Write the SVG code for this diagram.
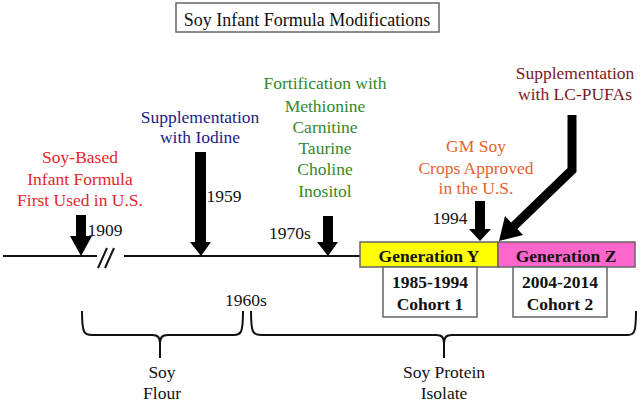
<svg xmlns="http://www.w3.org/2000/svg" width="641" height="403" viewBox="0 0 641 403">
<style>
text{font-family:"Liberation Serif","Times New Roman",serif;font-size:17.5px;text-anchor:middle}
.b{font-weight:bold;fill:#111}
.k{fill:#111}
.red{fill:#e5262d}
.blue{fill:#1c1c86}
.green{fill:#33882a}
.orange{fill:#e8622c}
.dred{fill:#7a1a1c}
.box{fill:#fff;stroke:#666;stroke-width:1.5}
.ln{fill:none;stroke:#111;stroke-width:2}
.arr{fill:#000}
</style>
<rect width="641" height="403" fill="#fff"/>
<g id="title">
<rect class="box" x="176" y="3" width="263" height="29"/>
<text class="k" x="307" y="26" style="font-size:18px">Soy Infant Formula Modifications</text>
</g>
<g id="connectors">
<line class="ln" x1="3" y1="256" x2="97" y2="256"/>
<line class="ln" x1="124" y1="256" x2="360" y2="256"/>
<line class="ln" x1="98" y1="268" x2="107" y2="248"/>
<line class="ln" x1="105" y1="268" x2="114" y2="248"/>
<polygon class="arr" points="76,215 86,215 86,236 92,236 81,256 70,236 76,236"/>
<polygon class="arr" points="195,152 206,152 206,242 211,242 201,256 190,242 195,242"/>
<polygon class="arr" points="323,216 333,216 333,242 338,242 328,256 317,242 323,242"/>
<polygon class="arr" points="475,201 485,201 485,229 491,229 480,241 469,229 475,229"/>
<polyline fill="none" stroke="#000" stroke-width="9" points="572,115 572,170 514,226"/>
<polygon class="arr" points="499,241 505,216 523,235"/>
<path class="ln" d="M82,311 C82,333 84,335 92,335 L152,335 C158,335 160,337 160,345 L160,358 M160,345 C160,337 162,335 168,335 L234,335 C241,335 243,333 243,311"/>
<path class="ln" d="M251,311 C251,333 253,335 261,335 L436,335 C442,335 444,337 444,345 L444,358 M444,345 C444,337 446,335 452,335 L628,335 C634,335 636,333 636,311"/>
</g>
<g id="n1909">
<text class="red" x="80" y="163">Soy-Based</text>
<text class="red" x="80" y="185">Infant Formula</text>
<text class="red" x="80" y="206">First Used in U.S.</text>
<text class="k" x="105" y="236">1909</text>
</g>
<g id="n1959">
<text class="blue" x="200" y="123">Supplementation</text>
<text class="blue" x="200" y="143">with Iodine</text>
<text class="k" x="224" y="202">1959</text>
</g>
<g id="n1970s">
<text class="green" x="325" y="89">Fortification with</text>
<text class="green" x="325" y="112">Methionine</text>
<text class="green" x="325" y="133">Carnitine</text>
<text class="green" x="325" y="154">Taurine</text>
<text class="green" x="325" y="175">Choline</text>
<text class="green" x="325" y="197">Inositol</text>
<text class="k" x="290" y="239">1970s</text>
</g>
<g id="n1994">
<text class="orange" x="476" y="152">GM Soy</text>
<text class="orange" x="476" y="174">Crops Approved</text>
<text class="orange" x="476" y="194">in the U.S.</text>
<text class="k" x="450" y="224">1994</text>
</g>
<g id="lcpufa">
<text class="dred" x="575" y="79">Supplementation</text>
<text class="dred" x="575" y="100">with LC-PUFAs</text>
</g>
<g id="genY">
<rect x="360" y="242" width="138" height="25" fill="#ffff00" stroke="#666" stroke-width="1.5"/>
<text class="b" x="429" y="262">Generation Y</text>
</g>
<g id="genZ">
<rect x="498" y="242" width="137" height="25" fill="#ff66cc" stroke="#666" stroke-width="1.5"/>
<text class="b" x="566" y="262">Generation Z</text>
</g>
<g id="cohort1">
<rect class="box" x="383" y="267" width="94" height="50"/>
<text class="b" x="430" y="288">1985-1994</text>
<text class="b" x="430" y="310">Cohort 1</text>
</g>
<g id="cohort2">
<rect class="box" x="513" y="267" width="94" height="50"/>
<text class="b" x="560" y="288">2004-2014</text>
<text class="b" x="560" y="310">Cohort 2</text>
</g>
<g id="braces">
<text class="k" x="246" y="306">1960s</text>
<text class="k" x="162" y="378">Soy</text>
<text class="k" x="162" y="399">Flour</text>
<text class="k" x="444" y="378">Soy Protein</text>
<text class="k" x="444" y="399">Isolate</text>
</g>
</svg>
